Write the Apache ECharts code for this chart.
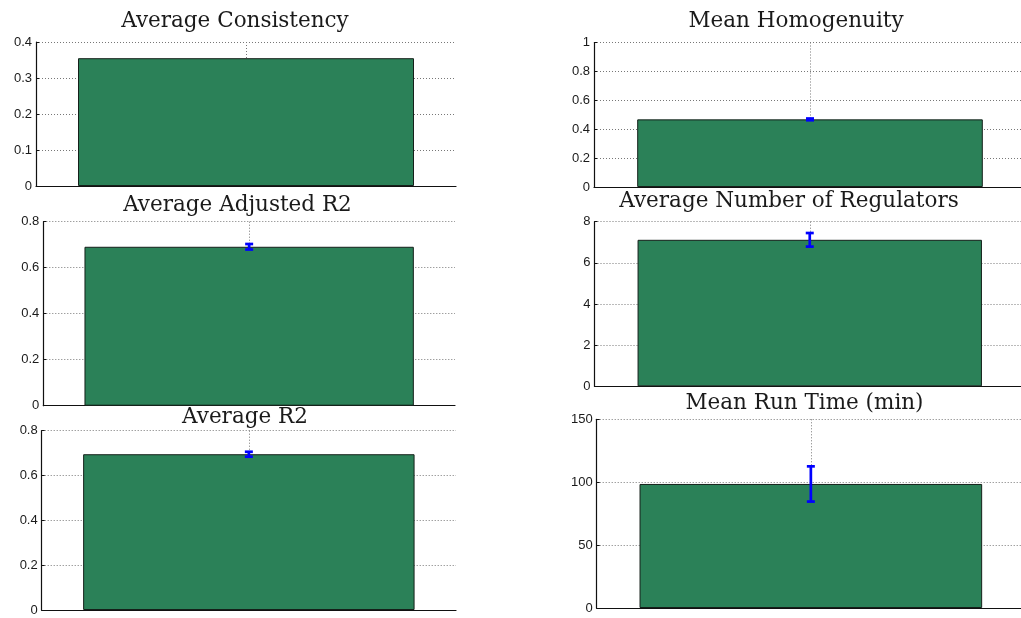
<!DOCTYPE html>
<html><head><meta charset="utf-8">
<script src="https://cdn.jsdelivr.net/npm/echarts@6/dist/echarts.min.js"></script>
<style>html,body{margin:0;padding:0;background:#fff}#c{width:1021px;height:618px}</style>
</head><body><div id="c"></div>
<script>
var titles = ['Average Consistency', 'Mean Homogenuity', 'Average Adjusted R2', 'Average Number of Regulators', 'Average R2', 'Mean Run Time (min)'];
var means = [0.355, 0.468, 0.691, 7.12, 0.695, 98.6];
var errors = [0, 0.006, 0.012, 0.33, 0.011, 14.0];
var yMax = [0.4, 1, 0.8, 8, 0.8, 150];
var yStep = [0.1, 0.2, 0.2, 2, 0.2, 50];

// layout: [left, top, rightEdge, bottom] in px
var boxes = [
  [36, 42, 456, 186],
  [594, 42.5, 1026, 187],
  [43.3, 221.7, 455, 405.7],
  [594.5, 221.7, 1025, 386.3],
  [41.7, 430.7, 456, 610],
  [596.7, 419.3, 1025, 608]
];
var titlePos = [[235, 21], [796, 21], [237.5, 205], [789, 201], [245, 417], [804.5, 403]];

var grids = [], xAxes = [], yAxes = [], series = [], graphics = [];
var axisCol = '#111';
for (var i = 0; i < 6; i++) {
  var b = boxes[i];
  grids.push({left: b[0], top: b[1], width: b[2] - b[0], height: b[3] - b[1], containLabel: false, outerBoundsMode: 'none'});
  xAxes.push({
    type: 'category', gridIndex: i, data: [titles[i]],
    axisLine: {show: true, lineStyle: {color: axisCol, width: 1.2}},
    axisTick: {show: false}, axisLabel: {show: false}, splitLine: {show: false}
  });
  xAxes.push({
    type: 'value', gridIndex: i, min: 0.5, max: 1.5, interval: 0.5,
    axisLine: {show: false}, axisTick: {show: false}, axisLabel: {show: false},
    splitLine: {show: true, showMinLine: false, showMaxLine: false, lineStyle: {color: '#777', type: [1, 2], width: 1}}
  });
  yAxes.push({
    type: 'value', gridIndex: i, min: 0, max: yMax[i], interval: yStep[i],
    axisLine: {show: true, lineStyle: {color: axisCol, width: 1.2}},
    axisTick: {show: true, inside: true, length: 3, lineStyle: {color: axisCol}},
    axisLabel: {show: true, margin: 4, color: '#1a1a1a', fontFamily: 'Liberation Sans, Arial, sans-serif', fontSize: 13},
    splitLine: {show: true, lineStyle: {color: '#777', type: [1, 2], width: 1}}
  });
  series.push({
    type: 'bar', xAxisIndex: 2 * i, yAxisIndex: i, barWidth: '80%',
    data: [means[i]], z: 2,
    itemStyle: {color: '#2B8158', borderColor: '#15201a', borderWidth: 1},
    silent: true, animation: false
  });
  (function (idx) {
    series.push({
      type: 'custom', xAxisIndex: 2 * idx, yAxisIndex: idx, z: 5, silent: true, animation: false,
      data: [[0, means[idx], errors[idx]]],
      renderItem: function (params, api) {
        var e = api.value(2);
        if (!e) return {type: 'group', children: []};
        var m = api.value(1);
        var top = api.coord([0, m + e]);
        var bot = api.coord([0, m - e]);
        var x = top[0], cw = 4;
        var st = {stroke: '#0000ff', lineWidth: 2.7};
        return {type: 'group', children: [
          {type: 'line', shape: {x1: x, y1: top[1], x2: x, y2: bot[1]}, style: st},
          {type: 'line', shape: {x1: x - cw, y1: top[1], x2: x + cw, y2: top[1]}, style: st},
          {type: 'line', shape: {x1: x - cw, y1: bot[1], x2: x + cw, y2: bot[1]}, style: st}
        ]};
      }
    });
  })(i);
  graphics.push({
    type: 'text', x: titlePos[i][0], y: titlePos[i][1], z: 100,
    style: {text: titles[i], fill: '#1a1a1a', font: '21.5px "DejaVu Serif", serif', textAlign: 'center', textVerticalAlign: 'middle'}
  });
}

var chart = echarts.init(document.getElementById('c'), null, {renderer: 'canvas'});
chart.setOption({
  animation: false,
  backgroundColor: '#fff',
  grid: grids, xAxis: xAxes, yAxis: yAxes, series: series,
  graphic: graphics
});
</script></body></html>
